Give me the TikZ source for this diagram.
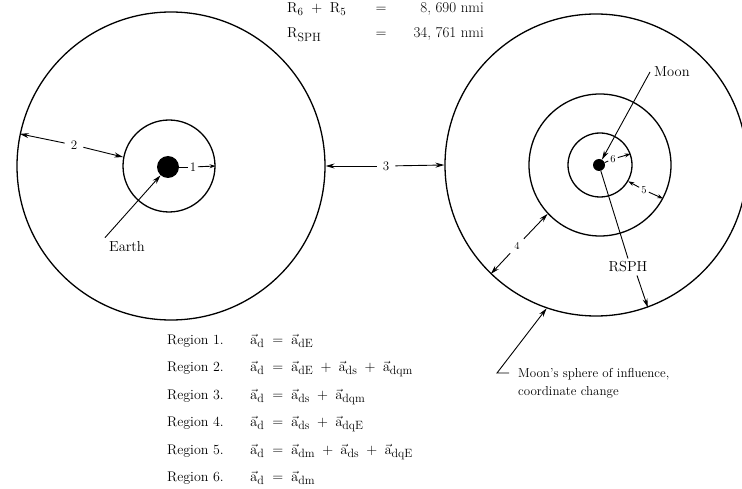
\documentclass[tikz,border=0pt]{standalone}
\usetikzlibrary{arrows.meta}
\newcommand\avec[1]{\vec{\mathrm{a}}_{\mbox{\fontsize{12}{12}\selectfont #1}}}
\newcommand\opeq{\;=\;}
\newcommand\opplus{\;+\;}
\begin{document}
\begin{tikzpicture}[x=1pt,y=-1pt,
  ring/.style={circle, draw, line width=1.3pt, inner sep=0pt, outer sep=0.6pt},
  dot/.style={circle, fill, inner sep=0pt},
  lbl/.style={font=\fontsize{14.5}{16}\selectfont, inner sep=1pt},
  num/.style={font=\fontsize{13}{15}\selectfont, inner sep=6pt},
  smallnum/.style={font=\fontsize{10.5}{12}\selectfont, inner sep=2pt},
  txt/.style={font=\fontsize{13}{15}\selectfont, inner sep=0pt},
  hdr/.style={font=\fontsize{15}{17}\selectfont, inner sep=0pt},
  reg/.style={font=\fontsize{14}{16}\selectfont, inner sep=0pt},
  eqn/.style={font=\fontsize{15}{17}\selectfont, inner sep=0pt},
  arr/.style={-{Stealth[length=9pt,width=5pt]}, line width=0.9pt},
  sarr/.style={-{Stealth[length=6pt,width=4pt]}, line width=0.9pt},
  ln/.style={line width=0.9pt}]
\useasboundingbox (0,0) rectangle (742,489);

% header
\node[hdr, anchor=base west] (h1a) at (287,13) {$\mathrm{R}_6\ +\ \mathrm{R}_5$};
\node[hdr, anchor=base] (h1b) at (381,13) {$=$};
\node[hdr, anchor=base east] (h1c) at (484,13) {8,\ 690 nmi};
\node[hdr, anchor=base west] (h2a) at (287,38) {$\mathrm{R}_{\mbox{\fontsize{12}{12}\selectfont SPH}}$};
\node[hdr, anchor=base] (h2b) at (381,38) {$=$};
\node[hdr, anchor=base east] (h2c) at (484,38) {34,\ 761 nmi};

% Earth system
\node[ring, minimum size=308pt] (EO) at (171,166) {};
\node[ring, minimum size=92pt] (EI) at (169,166) {};
\node[dot, minimum size=22pt] (ED) at (168,167) {};

\node[num] (l2) at (74,145) {2};
\draw[arr] (l2) -- (EO.168);
\draw[arr] (l2) -- (EI.169);

\node[num, inner sep=1.5pt] (l1) at (193,167) {1};
\draw[ln] (ED) -- (l1);
\draw[sarr] (l1) -- (EI.0);

\node[lbl] (earth) at (127,247) {Earth};
\draw[arr] ([xshift=-3pt,yshift=3pt]earth.north west) -- (ED);

\node[num] (l3) at (386,166) {3};
\draw[arr] (l3) -- (EO.0);

% Moon system
\node[ring, minimum size=302pt] (MO) at (596,165) {};
\node[ring, minimum size=142pt] (MM) at (600,165) {};
\node[ring, minimum size=64pt] (MI) at (600,165) {};
\node[dot, minimum size=12pt] (MD) at (599,165) {};

\draw[arr] (l3) -- (MO.180);

\node[lbl, anchor=west] (moon) at (653,72) {Moon};
\draw[arr] ([xshift=-3pt]moon.west) -- (MD);

\node[smallnum] (l6) at (613,159) {6};
\draw[ln] (MD) -- (l6);
\draw[sarr] (l6) -- (MI.20);

\node[smallnum] (l5) at (644,190) {5};
\draw[sarr] (l5) -- (MI.-30);
\draw[sarr] (l5) -- (MM.-28);

\node[smallnum, inner sep=4pt] (l4) at (517,246) {4};
\draw[arr] (l4) -- (MM.223);
\draw[arr] (l4) -- (MO.226);

\node[lbl, inner sep=3pt] (rsph) at (628,267) {RSPH};
\draw[ln] (MD) -- (rsph.north);
\draw[arr] ([xshift=9pt]rsph.south) -- (MO.-70);

\node[txt, anchor=base west] (soi1) at (518,377) {Moon's sphere of influence,};
\node[txt, anchor=base west] (soi2) at (518,395) {coordinate change};
\coordinate (c1) at (497,373);
\draw[arr] ([xshift=-9pt,yshift=4pt]soi1.base west) -- (c1) -- (MO.-109);

% region equations
\foreach \i/\yb/\eq in {
  1/344/{\avec{d}\opeq\avec{dE}},
  2/371.5/{\avec{d}\opeq\avec{dE}\opplus\avec{ds}\opplus\avec{dqm}},
  3/399/{\avec{d}\opeq\avec{ds}\opplus\avec{dqm}},
  4/426.5/{\avec{d}\opeq\avec{ds}\opplus\avec{dqE}},
  5/454/{\avec{d}\opeq\avec{dm}\opplus\avec{ds}\opplus\avec{dqE}},
  6/481.5/{\avec{d}\opeq\avec{dm}}}{
  \node[reg, anchor=base west] (r\i) at (167,\yb) {Region \i.};
  \node[eqn, anchor=base west] (eq\i) at (250,\yb) {$\eq$};
}
\end{tikzpicture}
\end{document}
